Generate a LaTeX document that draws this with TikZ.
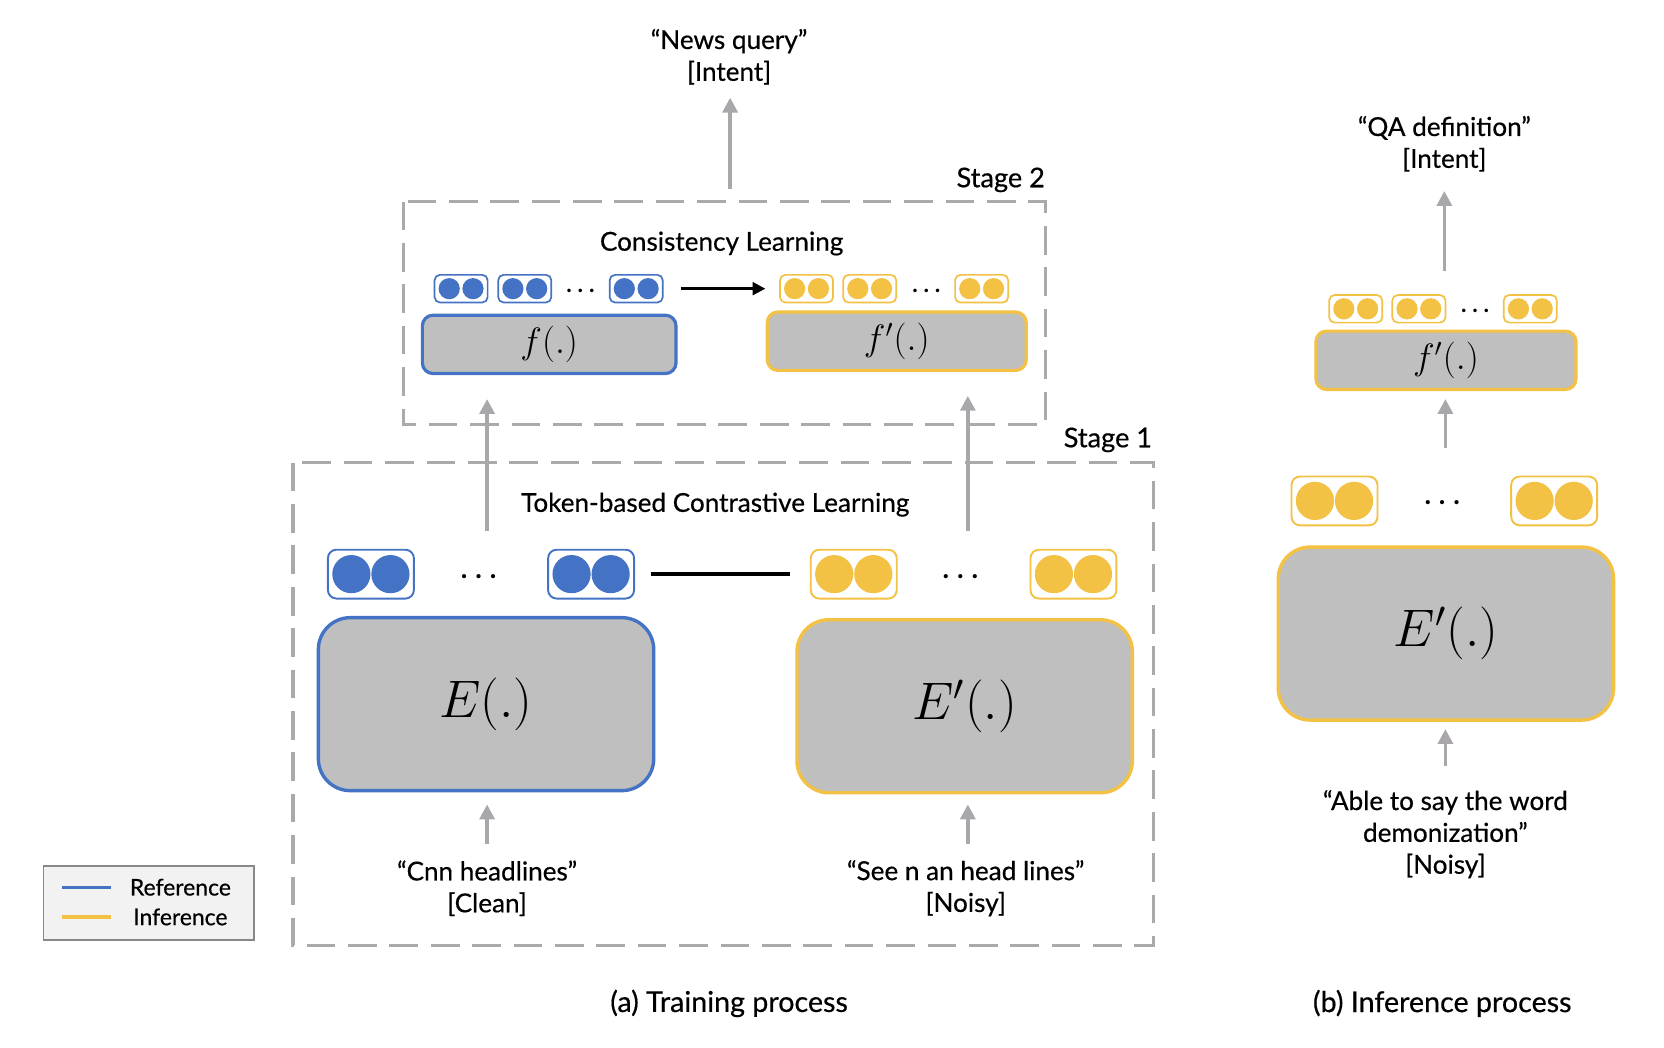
\documentclass[tikz,border=0pt]{standalone}
\usepackage{fontspec}
\setmainfont{Lato}[UprightFeatures={FakeBold=0.5}]
\usetikzlibrary{arrows.meta,calc}
\definecolor{blueC}{RGB}{68,114,196}
\definecolor{yelC}{RGB}{243,193,67}
\definecolor{boxfill}{RGB}{191,191,191}
\definecolor{dashgray}{RGB}{170,170,170}
\definecolor{arrgray}{RGB}{170,167,172}
\definecolor{legfill}{RGB}{242,242,242}
\tikzset{
  txt/.style={font=\fontsize{12.3}{15}\selectfont, align=center, inner sep=0pt},
  captxt/.style={font=\fontsize{13.5}{16}\selectfont, align=center, inner sep=0pt},
  stagetxt/.style={font=\fontsize{12.8}{15}\selectfont, inner sep=0pt, anchor=east},
  tokS/.style={draw=#1, line width=0.8pt, fill=white, rounded corners=2.5pt, minimum width=25pt, minimum height=13pt, inner sep=0pt},
  tokL/.style={draw=#1, line width=0.9pt, fill=white, rounded corners=4pt, minimum width=40.5pt, minimum height=23pt, inner sep=0pt},
  fbox/.style={draw=#1, line width=1.5pt, fill=boxfill, rounded corners=5pt, minimum height=27.5pt, inner sep=0pt, font=\fontsize{16.5}{19}\selectfont},
  ebox/.style={draw=#1, line width=1.6pt, fill=boxfill, rounded corners=15pt, minimum width=158pt, minimum height=81.5pt, inner sep=0pt, font=\fontsize{23}{28}\selectfont},
  stagebox/.style={draw=dashgray, line width=1.6pt, dash pattern=on 13.5pt off 6pt},
  garrow/.style={draw=arrgray, line width=1.7pt, -{Triangle[width=7pt,length=7pt]}},
  dotsS/.style={inner sep=0pt, font=\fontsize{11}{13}\selectfont\bfseries},
  dotsL/.style={inner sep=0pt, font=\fontsize{13}{16}\selectfont\bfseries},
}
\newcommand{\tokenS}[4]{%
  \node[tokS=#4] (#1) at (#2,#3) {};
  \fill[#4] ([xshift=-5.6pt]#1.center) circle (5pt);
  \fill[#4] ([xshift=5.6pt]#1.center) circle (5pt);}
\newcommand{\tokenL}[4]{%
  \node[tokL=#4] (#1) at (#2,#3) {};
  \fill[#4] ([xshift=-9.2pt]#1.center) circle (9pt);
  \fill[#4] ([xshift=9.2pt]#1.center) circle (9pt);}
\newcommand{\mysdots}{.\kern2.7pt.\kern2.7pt.}
\newcommand{\myldots}{.\kern3.7pt.\kern3.7pt.}
\begin{document}
\begin{tikzpicture}[x=0.5pt,y=-0.5pt]
\useasboundingbox (0,0) rectangle (1568,987.5);

% ---------- Training process ----------
\node[txt] (newsq) at (687,53.5) {“News query”\\{}[Intent]};
\coordinate (topA) at (688,178);
\coordinate (topB) at (688,92);
\draw[garrow] (topA) -- (topB);

\draw[stagebox] (380,190) rectangle (985,400);
\node[stagetxt] (stage2) at (985,169.5) {Stage 2};
\node[txt] (cons) at (680,229.5) {Consistency Learning};

\tokenS{b1}{434.5}{272}{blueC}
\tokenS{b2}{494.5}{272}{blueC}
\node[dotsS] (bd) at (547,274) {\mysdots};
\tokenS{b3}{599.5}{272}{blueC}
\tokenS{y1}{760}{272}{yelC}
\tokenS{y2}{819.5}{272}{yelC}
\node[dotsS] (yd) at (873,274) {\mysdots};
\tokenS{y3}{925}{272}{yelC}
\draw[line width=1.3pt, -{Triangle[width=6pt,length=6pt]}] ([xshift=8pt]b3.east) -- ([xshift=-6.5pt]y1.west);

\node[fbox=blueC, minimum width=119.5pt] (f) at (517.5,324.5) {\raisebox{-0.7pt}{$f(.)$}};
\node[fbox=yelC, minimum width=122pt] (fp) at (845,321.5) {\raisebox{-0.7pt}{$f'(.)$}};

\draw[stagebox] (276,436) rectangle (1087,891);
\node[stagetxt] (stage1) at (1086,414.5) {Stage 1};
\node[txt] (tok) at (674,475.5) {Token-based Contrastive Learning};

\tokenL{B1}{349.5}{541}{blueC}
\node[dotsL] (Bd) at (451,543) {\myldots};
\tokenL{B2}{557}{541}{blueC}
\tokenL{Y1}{804.5}{541}{yelC}
\node[dotsL] (Yd) at (905,543) {\myldots};
\tokenL{Y2}{1011.5}{541}{yelC}
\draw[line width=1.7pt] ([xshift=7.5pt]B2.east) -- ([xshift=-9.5pt]Y1.west);

\node[ebox=blueC] (E) at (458,663.5) {\raisebox{-1.5pt}{$E(.)$}};
\node[ebox=yelC] (Ep) at (909,665.5) {\raisebox{-1.5pt}{$E'(.)$}};

\coordinate (la) at (459,500);
\coordinate (lb) at (459,376);
\coordinate (ra) at (912,500);
\coordinate (rb) at (912,373);
\draw[garrow] (la) -- (lb);
\draw[garrow] (ra) -- (rb);

\coordinate (ia) at (459,795);
\coordinate (ib) at (459,758);
\coordinate (ja) at (912,795);
\coordinate (jb) at (912,758);
\draw[garrow] (ia) -- (ib);
\draw[garrow] (ja) -- (jb);

\node[txt] (clean) at (459,837) {“Cnn headlines”\\{}[Clean]};
\node[txt] (noisy) at (910,837) {“See n an head lines”\\{}[Noisy]};

% legend
\node[draw=dashgray!80!black, line width=0.9pt, fill=legfill, minimum width=99pt, minimum height=35pt, inner sep=0pt] (legend) at (140,851) {};
\coordinate (l1a) at (58,836);
\coordinate (l1b) at (105,836);
\coordinate (l2a) at (58,864);
\coordinate (l2b) at (105,864);
\draw[blueC, line width=1.5pt] (l1a) -- (l1b);
\draw[yelC, line width=1.5pt] (l2a) -- (l2b);
\node[txt, font=\fontsize{10.8}{12}\selectfont] (lref) at (170,836) {Reference};
\node[txt, font=\fontsize{10.8}{12}\selectfont] (linf) at (170,864) {Inference};

\node[captxt] (capa) at (687,945.5) {(a) Training process};

% ---------- Inference process ----------
\node[txt] (qa) at (1361,135.5) {“QA definition”\\{}[Intent]};
\coordinate (qA) at (1361,255);
\coordinate (qB) at (1361,180);
\draw[garrow] (qA) -- (qB);

\tokenS{r1}{1277.5}{291}{yelC}
\tokenS{r2}{1337}{291}{yelC}
\node[dotsS] (rd) at (1390,293) {\mysdots};
\tokenS{r3}{1442}{291}{yelC}
\node[fbox=yelC, minimum width=122.5pt] (rfp) at (1362.5,339.5) {\raisebox{-0.7pt}{$f'(.)$}};

\coordinate (mA) at (1362,422);
\coordinate (mB) at (1362,376);
\draw[garrow] (mA) -- (mB);

\tokenL{R1}{1257.5}{472}{yelC}
\node[dotsL] (Rd) at (1359,474) {\myldots};
\tokenL{R2}{1464.5}{472}{yelC}
\node[ebox=yelC] (rEp) at (1362.5,597) {\raisebox{-1.5pt}{$E'(.)$}};

\coordinate (nA) at (1362,722);
\coordinate (nB) at (1362,687);
\draw[garrow] (nA) -- (nB);

\node[txt] (able) at (1362,786) {“Able to say the word\\demonization”\\{}[Noisy]};
\node[captxt] (capb) at (1359,945.5) {(b) Inference process};
\end{tikzpicture}
\end{document}
